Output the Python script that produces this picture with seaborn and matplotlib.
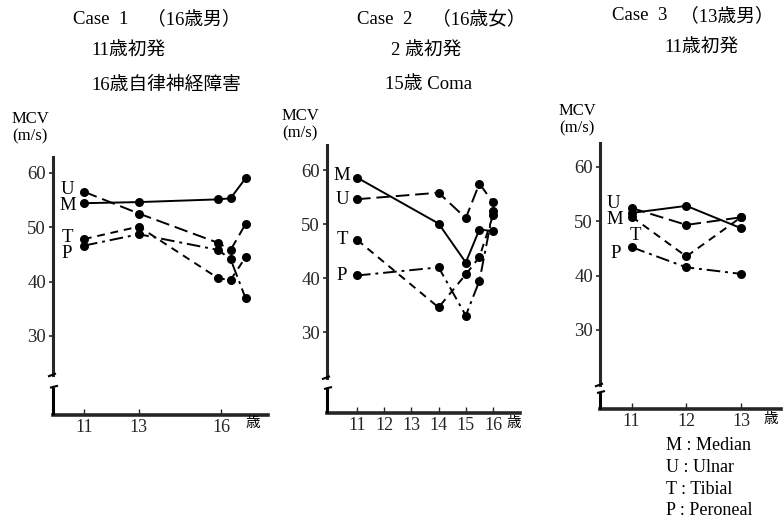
import matplotlib
matplotlib.use("Agg")
import matplotlib.pyplot as plt
from matplotlib.lines import Line2D
import seaborn as sns
import pandas as pd

# ---------------- data ----------------
nerves = ["M", "U", "T", "P"]

ages1 = [11, 13, 15.9, 16.35, 16.9]
c1_M = [54.4, 54.6, 55.1, 55.3, 59.0]
c1_U = [56.5, 52.5, 47.1, 45.8, 50.6]
c1_T = [47.8, 50.1, 40.6, 40.3, 44.5]
c1_P = [46.6, 48.7, 45.8, 44.1, 36.9]

ages2 = [11, 14, 15, 15.5, 16]
c2_M = [58.6, 50.1, 42.9, 49.0, 48.7]
c2_U = [54.6, 55.8, 51.1, 57.5, 54.0]
c2_T = [47.1, 34.6, 40.7, 43.9, 51.6]
c2_P = [40.5, 42.0, 33.1, 39.5, 52.4]

ages3 = [11, 12, 13]
c3_M = [51.5, 52.8, 48.7]
c3_U = [52.4, 49.3, 50.7]
c3_T = [50.8, 43.5, 50.7]
c3_P = [45.2, 41.5, 40.3]

yticks = [30, 40, 50, 60]
xticks1 = [11, 13, 16]
xticks2 = [11, 12, 13, 14, 15, 16]
xticks3 = [11, 12, 13]

case_names = ["Case  1", "Case  2", "Case  3"]
case_info = ["（16歳男）", "（16歳女）", "（13歳男）"]
sub1 = ["11歳初発", "16歳自律神経障害"]
sub2 = ["2 歳初発", "15歳 Coma"]
sub3 = ["11歳初発"]
legend_lines = ["M : Median", "U : Ulnar", "T : Tibial", "P : Peroneal"]

# ---------------- style ----------------
sns.set_style("ticks")
plt.rcParams["font.family"] = ["Liberation Serif", "Noto Sans CJK JP"]
plt.rcParams["axes.unicode_minus"] = False

W, H = 784, 524
fig = plt.figure(figsize=(W / 100, H / 100), dpi=100)

dashes = {"M": "", "U": (7, 3), "T": (4, 3), "P": (7, 2.5, 1.5, 2.5)}
markers = {k: "o" for k in nerves}


def fx(px):
    return px / W


def fy(py):
    return 1 - py / H


def fig_line(x0, y0, x1, y1, lw=1.6):
    fig.add_artist(Line2D([fx(x0), fx(x1)], [fy(y0), fy(y1)],
                          transform=fig.transFigure, color="black", lw=lw,
                          solid_capstyle="butt"))


def fig_text(x, y, s, size=11, ha="left", va="center"):
    fig.text(fx(x), fy(y), s, fontsize=size, ha=ha, va=va, color="black")


def panel(ages, series, xticks, spine_x, right_px, top_px, axis_px,
          x11_px, px_per_year, y60_px, px_per_unit, brk_top_px, brk_bot_px,
          labels):
    ax = fig.add_axes([fx(spine_x), fy(axis_px), fx(right_px - spine_x),
                       (axis_px - top_px) / H])
    xmin = 11 - (x11_px - spine_x) / px_per_year
    xmax = 11 + (right_px - x11_px) / px_per_year
    ymin = 60 - (axis_px - y60_px) / px_per_unit
    ymax = 60 + (y60_px - top_px) / px_per_unit
    rows = []
    for name, vals in zip(nerves, series):
        for a, v in zip(ages, vals):
            rows.append({"age": a, "mcv": v, "nerve": name})
    df = pd.DataFrame(rows)
    sns.lineplot(data=df, x="age", y="mcv", style="nerve", style_order=nerves,
                 dashes=dashes, markers=markers, color="black", lw=1.4,
                 markersize=6.5, markeredgewidth=0, estimator=None,
                 sort=False, legend=False, ax=ax)
    ax.set_xlim(xmin, xmax)
    ax.set_ylim(ymin, ymax)
    ax.set_xlabel("")
    ax.set_ylabel("")
    ax.set_xticks(xticks)
    ax.set_xticklabels([str(t) for t in xticks])
    ax.set_yticks(yticks)
    ax.set_yticklabels([str(t) for t in yticks])
    ax.tick_params(axis="x", direction="in", length=4, width=1, pad=3,
                   labelsize=13)
    ax.tick_params(axis="y", direction="out", length=3, width=1.2, pad=2,
                   labelsize=13.5)
    ax.spines["top"].set_visible(False)
    ax.spines["right"].set_visible(False)
    ax.spines["left"].set_linewidth(2.2)
    ax.spines["bottom"].set_linewidth(2.6)
    brk_top_val = 60 - (brk_top_px - y60_px) / px_per_unit
    ax.spines["left"].set_bounds(brk_top_val, ymax)
    ax.patch.set_alpha(0)
    # lower piece of the broken y axis
    fig_line(spine_x, brk_bot_px, spine_x, axis_px, lw=2.2)
    # break marks
    fig_line(spine_x - 5, brk_top_px + 1.5, spine_x + 3, brk_top_px - 1.5, lw=1.5)
    fig_line(spine_x - 3, brk_bot_px + 1, spine_x + 5, brk_bot_px - 1, lw=1.5)
    # series letters
    for (lx, ly, s) in labels:
        fig_text(lx, ly, s, size=13.5, ha="center")
    return ax


panel(ages1, [c1_M, c1_U, c1_T, c1_P], xticks1, spine_x=53, right_px=268,
      top_px=157, axis_px=415, x11_px=84, px_per_year=27.4, y60_px=172.7,
      px_per_unit=5.443, brk_top_px=375, brk_bot_px=386.7,
      labels=[(67, 189, "U"), (68, 206, "M"), (67, 237, "T"), (67, 254, "P")])

panel(ages2, [c2_M, c2_U, c2_T, c2_P], xticks2, spine_x=327, right_px=520,
      top_px=145, axis_px=413.3, x11_px=357, px_per_year=27.2, y60_px=170,
      px_per_unit=5.41, brk_top_px=377.7, brk_bot_px=388,
      labels=[(342, 176, "M"), (342, 200, "U"), (342, 239, "T"), (342, 276, "P")])

panel(ages3, [c3_M, c3_U, c3_T, c3_P], xticks3, spine_x=600, right_px=781,
      top_px=143.3, axis_px=409, x11_px=631.7, px_per_year=54.65, y60_px=166.7,
      px_per_unit=5.44, brk_top_px=385, brk_bot_px=392,
      labels=[(613, 203, "U"), (615, 220, "M"), (635, 236, "T"), (616, 253, "P")])

# unit labels
for x, y in [(253, 424), (514, 423), (771, 419)]:
    fig_text(x, y, "歳", size=10.5, ha="center")
for x, y in [(12, 119), (282, 116), (559, 111)]:
    fig_text(x, y, "MCV", size=12)
    fig_text(x, y + 17, "(m/s)", size=12)

# titles
for name, info, xn, xi, y in zip(case_names, case_info,
                                 [73, 357, 612], [147, 432, 680],
                                 [19, 19, 16]):
    fig_text(xn, y, name, size=13.5)
    fig_text(xi, y, info, size=13.5)
fig_text(91, 51, sub1[0], size=13.5)
fig_text(91, 85, sub1[1], size=13.5)
fig_text(391, 51, sub2[0], size=13.5)
fig_text(385, 85, sub2[1], size=13.5)
fig_text(664, 48, sub3[0], size=13.5)

# nerve key
for i, s in enumerate(legend_lines):
    fig_text(666, 446 + i * 21.5, s, size=13)

fig.savefig("out.png", dpi=100)
